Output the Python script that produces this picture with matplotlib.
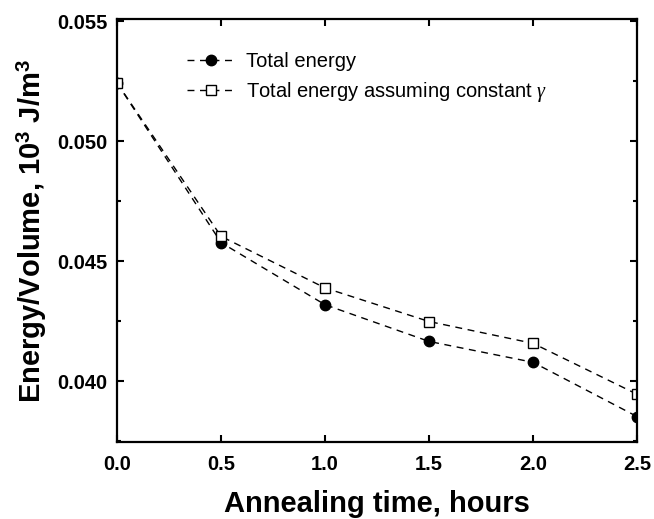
import matplotlib
matplotlib.use('Agg')
import matplotlib.pyplot as plt
import matplotlib.ticker as mticker

plt.rcParams['font.family'] = ['Liberation Sans', 'DejaVu Sans']
plt.rcParams['mathtext.fontset'] = 'custom'
plt.rcParams['mathtext.rm'] = 'Liberation Sans'
plt.rcParams['mathtext.bf'] = 'Liberation Sans:bold'
plt.rcParams['mathtext.it'] = 'Liberation Serif:italic'

# data
hours = [0.0, 0.5, 1.0, 1.5, 2.0, 2.5]
total_energy = [0.05242, 0.04577, 0.04318, 0.04165, 0.04078, 0.03852]
total_const_gamma = [0.05242, 0.04603, 0.04388, 0.04248, 0.04157, 0.03945]

fig = plt.figure(figsize=(6.54, 5.19), dpi=100)
ax = fig.add_axes([0.179, 0.148, 0.795, 0.815])

dash = (0, (5, 4))
ax.plot(hours, total_energy, color='black', linestyle=dash, linewidth=1.0,
        marker='o', markersize=7.5, markerfacecolor='black', markeredgecolor='black',
        label='Total energy')
ax.plot(hours, total_const_gamma, color='black', linestyle=dash, linewidth=1.0,
        marker='s', markersize=6.5, markerfacecolor='white', markeredgecolor='black',
        markeredgewidth=1.0, label=r'Total energy assuming constant $\gamma$')

ax.set_xlim(0, 2.5)
ax.set_ylim(0.03745, 0.05508)
ax.xaxis.set_major_locator(mticker.MultipleLocator(0.5))
ax.xaxis.set_major_formatter(mticker.FormatStrFormatter('%.1f'))
ax.yaxis.set_major_locator(mticker.MultipleLocator(0.005))
ax.yaxis.set_minor_locator(mticker.MultipleLocator(0.0025))
ax.yaxis.set_major_formatter(mticker.FormatStrFormatter('%.3f'))

ax.tick_params(which='both', direction='in', top=True, right=True, width=1.5)
ax.tick_params(which='major', length=5, labelsize=14.5)
ax.tick_params(which='minor', length=3)
ax.tick_params(axis='x', pad=9)
ax.tick_params(axis='y', pad=7)
for lbl in ax.get_xticklabels() + ax.get_yticklabels():
    lbl.set_fontweight('bold')
for sp in ax.spines.values():
    sp.set_linewidth(1.6)

ax.set_xlabel('Annealing time, hours', fontsize=21, fontweight='bold', labelpad=12)
ax.set_ylabel(r'Energy/Volume, 10$^\mathbf{3}$ J/m$^\mathbf{3}$', fontsize=21,
              fontweight='bold', labelpad=6)

ax.legend(loc='upper left', bbox_to_anchor=(0.1, 0.965), frameon=False, fontsize=14.5,
          handlelength=2.4, handletextpad=0.5, labelspacing=0.45)

fig.savefig('out.png', dpi=100)
